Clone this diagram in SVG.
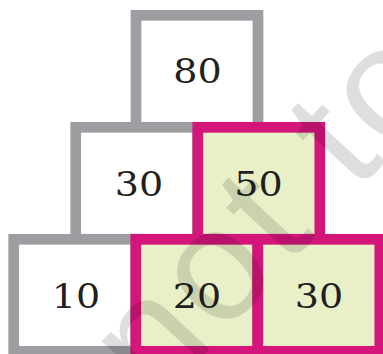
<svg xmlns="http://www.w3.org/2000/svg" width="383" height="354" viewBox="0 0 383 354">
  <style>
    .g { fill: #ffffff; stroke: #9d9ea2; stroke-width: 10.7; }
    .m { fill: #e9f0c8; stroke: #d4157a; stroke-width: 10.7; }
    .t { font-family: "DejaVu Serif", "Liberation Serif", serif; font-size: 34px; fill: #231f20; text-anchor: middle; }
    .wm { font-family: "Liberation Sans", Arial, sans-serif; font-size: 160px; letter-spacing: 6.5px; fill: #000000; fill-opacity: 0.13; }
  </style>
  <rect width="383" height="354" fill="#ffffff"/>
  <g id="n80">
    <rect class="g" x="136" y="15.3" width="122" height="112"/>
  </g>
  <g id="n30a">
    <rect class="g" x="75.7" y="127.3" width="122" height="112"/>
  </g>
  <g id="n10">
    <rect class="g" x="13.7" y="239.3" width="122" height="112"/>
  </g>
  <g id="n50">
    <rect class="m" x="197.8" y="127.3" width="122" height="112"/>
  </g>
  <g id="n20">
    <rect class="m" x="135.8" y="239.3" width="122" height="112"/>
  </g>
  <g id="n30b">
    <rect class="m" x="257.8" y="239.3" width="122" height="112"/>
  </g>
  <g id="labels">
    <text class="t" transform="translate(197.5,83) scale(1.12,1)">80</text>
    <text class="t" transform="translate(139,196) scale(1.12,1)">30</text>
    <text class="t" transform="translate(258.5,196) scale(1.12,1)">50</text>
    <text class="t" transform="translate(76,308) scale(1.12,1)">10</text>
    <text class="t" transform="translate(197,308) scale(1.12,1)">20</text>
    <text class="t" transform="translate(319,308) scale(1.12,1)">30</text>
  </g>
  <g id="connectors"></g>
  <text class="wm" transform="translate(156,407) rotate(-47)">not to</text>
</svg>
